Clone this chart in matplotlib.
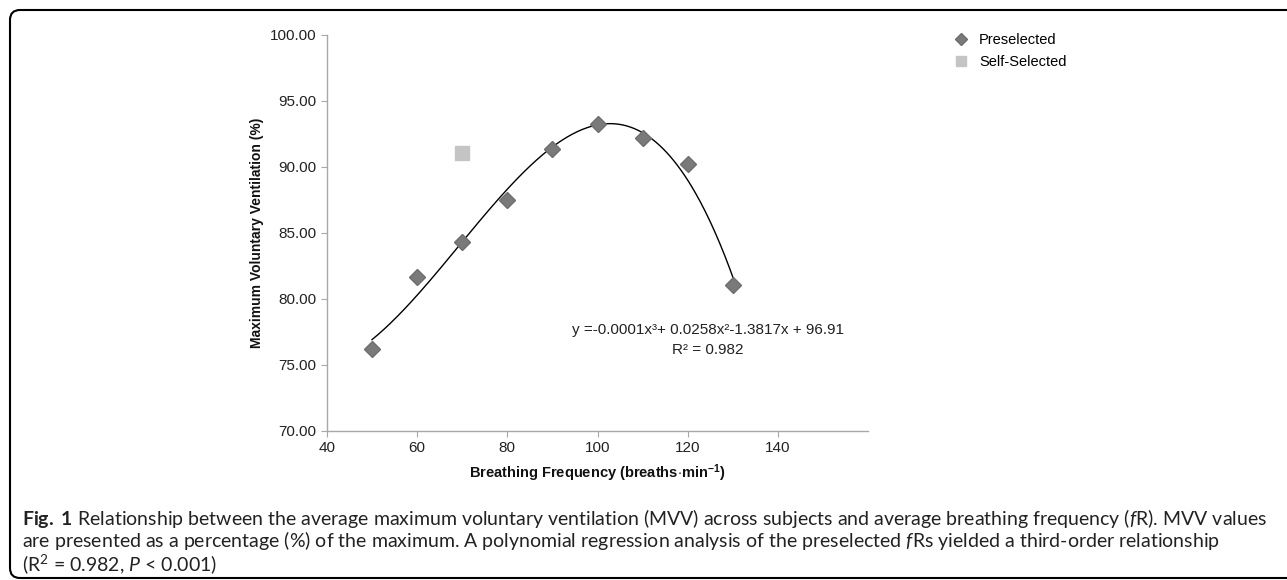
import matplotlib.pyplot as plt
import numpy as np
from matplotlib.patches import FancyBboxPatch

# MVV (% of max) at each preselected breathing frequency
freq_pre = [50, 60, 70, 80, 90, 100, 110, 120, 130]
mvv_pre = [76.2, 81.7, 84.3, 87.5, 91.4, 93.25, 92.2, 90.2, 81.05]
# self-selected breathing frequency
freq_self = [70]
mvv_self = [91.05]

xticks = [40, 60, 80, 100, 120, 140]
yticks = [70, 75, 80, 85, 90, 95, 100]

plt.rcParams['font.family'] = ['Liberation Sans', 'DejaVu Sans']
plt.rcParams['mathtext.fontset'] = 'custom'
plt.rcParams['mathtext.rm'] = 'Lato'
plt.rcParams['mathtext.it'] = 'Lato:italic'
plt.rcParams['mathtext.bf'] = 'Lato:bold'

fig = plt.figure(figsize=(12.87, 5.8), dpi=100)
ax = fig.add_axes([0.254, 0.2569, 0.4206, 0.6828])

# cubic trendline through the preselected points
coef = np.polyfit(freq_pre, mvv_pre, 3)
xs = np.linspace(min(freq_pre), max(freq_pre), 300)
ax.plot(xs, np.polyval(coef, xs), color='black', lw=1.0, zorder=2)

ax.plot(freq_pre, mvv_pre, 'D', color='#7a7a7a', ms=8, mec='#6e6e6e',
        label='Preselected', zorder=3)
ax.plot(freq_self, mvv_self, 's', color='#c4c4c4', ms=9.5, mec='#c4c4c4',
        label='Self-Selected', zorder=3)

ax.set_xlim(40, 160)
ax.set_ylim(70, 100)
ax.set_xticks(xticks)
ax.set_yticks(yticks)
ax.set_yticklabels([f'{v:.2f}' for v in yticks])
for s in ['top', 'right']:
    ax.spines[s].set_visible(False)
for s in ['left', 'bottom']:
    ax.spines[s].set_color('#a8a8a8')
    ax.spines[s].set_linewidth(1.0)
ax.tick_params(colors='#a8a8a8', labelcolor='#222222', labelsize=11,
               length=4, direction='out')

ax.set_ylabel('Maximum Voluntary Ventilation (%)', fontsize=10, fontweight='bold',
              color='#111111', labelpad=4)
ax.set_xlabel(r'Breathing Frequency (breaths$\cdot$min$^{\mathregular{-1}}$)',
              fontsize=10.5, fontweight='bold', color='#111111', labelpad=5)

ax.text(0.704, 0.255, 'y =-0.0001x³+ 0.0258x²-1.3817x + 96.91',
        transform=ax.transAxes, ha='center', va='center', fontsize=11, color='#222222')
ax.text(0.704, 0.205, 'R² = 0.982', transform=ax.transAxes,
        ha='center', va='center', fontsize=11, color='#222222')

ax.legend(loc='upper left', bbox_to_anchor=(0.737, 0.955), bbox_transform=fig.transFigure,
          frameon=False, fontsize=10.5, handlelength=0.7, handletextpad=0.9,
          labelspacing=0.55, markerscale=0.75, borderpad=0)

# rounded frame around the figure panel (open on the right)
box = FancyBboxPatch((0.10, 0.02), 13.5, 5.68, boxstyle='round,pad=0,rounding_size=0.1',
                     transform=fig.dpi_scale_trans, fill=False, ec='black', lw=1.5)
fig.patches.append(box)

cap_kw = dict(fontsize=14, family='Lato', color='#222222', ha='left', va='center')
fig.text(0.017, 1 - 518 / 580,
         r'$\mathbf{Fig.}$ $\mathbf{1}$ Relationship between the average maximum voluntary ventilation (MVV) '
         r'across subjects and average breathing frequency ($\mathit{f}$R). MVV values', **cap_kw)
fig.text(0.017, 1 - 541 / 580,
         r'are presented as a percentage (%) of the maximum. A polynomial regression analysis of '
         r'the preselected $\mathit{f}$Rs yielded a third-order relationship', **cap_kw)
fig.text(0.017, 1 - 564 / 580, r'(R$^2$ = 0.982, $\mathit{P}$ < 0.001)', **cap_kw)

fig.savefig('out.png', dpi=100)
